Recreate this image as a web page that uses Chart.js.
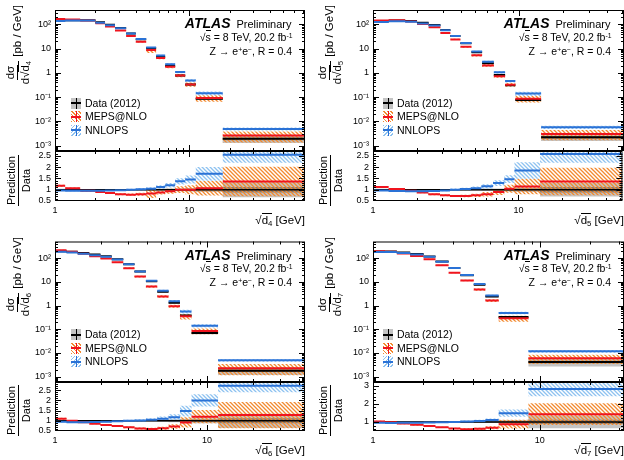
<!DOCTYPE html>
<html>
<head>
<meta charset="utf-8">
<script src="https://cdn.jsdelivr.net/npm/chart.js@4.4.0/dist/chart.umd.min.js"></script>
<style>
  body { margin: 0; background: #fff; font-family: "Liberation Sans", Arial, Helvetica, sans-serif; color: #000; }
  #fig { position: relative; width: 624px; height: 460px; overflow: hidden; }
  .panel { position: absolute; width: 312px; height: 230px; }
  .panel canvas { position: absolute; left: 0; }
  .txt { position: absolute; white-space: nowrap; }
  .atlas { font-size: 11px; line-height: 14px; }
  .atlas b { font-size: 14px; font-style: italic; font-weight: bold; margin-right: 6px; }
  .info { font-size: 10.5px; line-height: 12px; text-align: right; }
  .sup { font-size: 65%; vertical-align: 0.45em; line-height: 0; }
  .sb { font-size: 68%; vertical-align: -0.3em; line-height: 0; }
  .ol { border-top: 1px solid #000; padding-top: 0; }
  .leg { font-size: 10.5px; line-height: 13.5px; }
  .leg div { position: relative; padding-left: 14px; height: 13.5px; }
  .ico { position: absolute; left: 0; top: 1px; width: 10px; height: 11px; }
  .ico i { position: absolute; display: block; }
  .ico .h { left: 0; right: 0; top: 4.5px; height: 2px; }
  .ico .v { top: 0; bottom: 0; left: 4.5px; width: 1px; }
  .xt { font-size: 11.5px; line-height: 13px; text-align: right; }
  .yt { position: absolute; transform: rotate(-90deg); transform-origin: top left;
        display: flex; align-items: center; height: 26px; white-space: nowrap; }
  .frac { display: inline-flex; flex-direction: column; align-items: center; line-height: 12px; margin-right: 3px; }
  .frac .n { border-bottom: 1px solid #000; padding: 0 1px 1px; }
  .frac .d { padding: 1px 1px 0; }
</style>
</head>
<body>
<div id="fig"></div>
<script>
// bins and cross sections for sqrt(d4) .. sqrt(d7), values in pb/GeV
const d4Edges = [1, 1.19, 1.54, 2.0, 2.36, 2.8, 3.39, 4.0, 4.78, 5.67, 6.62, 7.86, 9.34, 11.2, 17.8, 73];
const d4Data = [140, 148, 148, 122, 95, 70, 42, 24, 10.5, 4.6, 1.9, 0.78, 0.33, 0.085, 0.0019];
const d4Meps = [165, 157, 142, 110, 81, 56, 32.8, 19.2, 8.8, 4.05, 1.77, 0.78, 0.33, 0.091, 0.0026];
const d4Nnlops = [136, 142, 142, 117, 92, 68.6, 42, 24.5, 11.0, 5.15, 2.28, 1.07, 0.48, 0.145, 0.00485];
const d4DataErr = [0.04, 0.03, 0.03, 0.03, 0.03, 0.03, 0.03, 0.03, 0.04, 0.05, 0.06, 0.07, 0.08, 0.1, 0.33];
const d4DataStat = [0.005, 0.005, 0.005, 0.005, 0.005, 0.005, 0.005, 0.01, 0.01, 0.015, 0.02, 0.03, 0.04, 0.05, 0.12];
const d4MepsErr = [0.04, 0.04, 0.04, 0.04, 0.05, 0.05, 0.06, 0.08, 0.25, 0.1, 0.12, 0.15, 0.2, 0.3, 0.48];
const d4NnlopsErr = [0.03, 0.03, 0.03, 0.03, 0.03, 0.03, 0.04, 0.05, 0.06, 0.07, 0.08, 0.1, 0.12, 0.18, 0.14];

const d5Edges = [1, 1.28, 1.66, 2.0, 2.4, 2.89, 3.38, 3.96, 4.71, 5.57, 6.7, 8.0, 9.4, 14.1, 52];
const d5Data = [129, 142, 137, 117, 94, 58, 33, 16.4, 7.0, 2.5, 0.81, 0.31, 0.075, 0.0022];
const d5Meps = [144.5, 146, 131.5, 103, 75, 43.5, 23.8, 11.8, 5.25, 2.0, 0.73, 0.325, 0.086, 0.003];
const d5Nnlops = [125, 133.5, 127.4, 108.8, 88.4, 56.3, 33, 16.9, 7.5, 2.88, 1.05, 0.456, 0.139, 0.0057];
const d5DataErr = [0.04, 0.03, 0.03, 0.03, 0.03, 0.03, 0.03, 0.04, 0.04, 0.05, 0.06, 0.08, 0.1, 0.3];
const d5DataStat = [0.005, 0.005, 0.005, 0.005, 0.005, 0.005, 0.01, 0.01, 0.015, 0.02, 0.03, 0.04, 0.05, 0.12];
const d5MepsErr = [0.04, 0.04, 0.04, 0.04, 0.05, 0.05, 0.06, 0.08, 0.1, 0.12, 0.15, 0.17, 0.3, 0.45];
const d5NnlopsErr = [0.03, 0.03, 0.03, 0.03, 0.03, 0.04, 0.05, 0.06, 0.07, 0.08, 0.1, 0.12, 0.2, 0.15];

const d6Edges = [1, 1.19, 1.41, 1.68, 1.99, 2.36, 2.81, 3.33, 3.96, 4.7, 5.58, 6.63, 7.9, 11.8, 44];
const d6Data = [195, 185, 165, 140, 120, 90, 55, 27, 10.5, 3.8, 1.3, 0.38, 0.07, 0.0018];
const d6Meps = [214.5, 185, 153.5, 120.4, 96, 66.6, 37.4, 16.7, 6.3, 2.4, 0.94, 0.35, 0.084, 0.0023];
const d6Nnlops = [187, 172, 153.5, 131.6, 115, 88.2, 55, 27.5, 11.0, 4.2, 1.53, 0.56, 0.14, 0.0049];
const d6DataErr = [0.04, 0.03, 0.03, 0.03, 0.03, 0.03, 0.03, 0.04, 0.05, 0.06, 0.07, 0.1, 0.12, 0.35];
const d6DataStat = [0.005, 0.005, 0.005, 0.005, 0.005, 0.005, 0.01, 0.01, 0.015, 0.02, 0.03, 0.05, 0.06, 0.12];
const d6MepsErr = [0.04, 0.04, 0.04, 0.04, 0.05, 0.05, 0.06, 0.08, 0.1, 0.12, 0.15, 0.27, 0.27, 0.5];
const d6NnlopsErr = [0.03, 0.03, 0.03, 0.03, 0.03, 0.04, 0.05, 0.06, 0.07, 0.1, 0.12, 0.18, 0.15, 0.12];

const d7Edges = [1, 1.18, 1.39, 1.67, 2.01, 2.37, 2.84, 3.34, 4.02, 4.72, 5.67, 8.55, 32];
const d7Data = [190, 190, 173, 147, 117, 72, 38, 19, 7.6, 2.4, 0.33, 0.0042];
const d7Meps = [195.7, 186.2, 157.4, 123.5, 90, 50.4, 24.3, 11.4, 4.7, 1.63, 0.29, 0.006];
const d7Nnlops = [180.5, 178.6, 164.4, 141, 113.5, 70.6, 38, 19.4, 8.0, 2.64, 0.49, 0.0118];
const d7DataErr = [0.04, 0.03, 0.03, 0.03, 0.03, 0.03, 0.03, 0.04, 0.05, 0.06, 0.1, 0.35];
const d7DataStat = [0.005, 0.005, 0.005, 0.005, 0.005, 0.01, 0.01, 0.015, 0.02, 0.03, 0.05, 0.12];
const d7MepsErr = [0.04, 0.04, 0.04, 0.04, 0.05, 0.05, 0.06, 0.08, 0.1, 0.13, 0.28, 0.42];
const d7NnlopsErr = [0.03, 0.03, 0.03, 0.03, 0.03, 0.04, 0.05, 0.06, 0.07, 0.08, 0.13, 0.14];

// ratio axis labels
const ratioTicksA = [0.5, 1, 1.5, 2, 2.5];
const ratioTicksB = [1, 2, 3];

const FONT = '"Liberation Sans", Arial, Helvetica, sans-serif';
const RED = '#f0141e';
const BLUE = '#2a72d6';
const GREY = '#c4c4c4';
const DGREY = '#7c7c7c';
const ORANGE = '#f28a30';
const LBLUE = '#8ec2f0';

Chart.defaults.font.family = FONT;
Chart.defaults.color = '#000';

function hatch(color) {
  const c = document.createElement('canvas');
  c.width = c.height = 4;
  const g = c.getContext('2d');
  g.strokeStyle = color;
  g.lineWidth = 1.3;
  g.beginPath();
  g.moveTo(-1, -1); g.lineTo(5, 5);
  g.moveTo(-1, 3); g.lineTo(1, 5);
  g.moveTo(3, -1); g.lineTo(5, 1);
  g.stroke();
  return g.createPattern(c, 'repeat');
}
const ORANGE_HATCH = hatch(ORANGE);
const BLUE_HATCH = hatch(LBLUE);

const panels = [
  { sub: '4', left: 0, top: 0, axL: 55, axR: 305, mainTop: 10, split: 151, xMax: 73, yMax: 388,
    rMax: 2.72, rTicks: ratioTicksA, rMinor: 0.1,
    edges: d4Edges, data: d4Data, meps: d4Meps, nnlops: d4Nnlops,
    dataErr: d4DataErr, dataStat: d4DataStat, mepsErr: d4MepsErr, nnlopsErr: d4NnlopsErr },
  { sub: '5', left: 312, top: 0, axL: 61, axR: 312, mainTop: 10, split: 151, xMax: 52, yMax: 388,
    rMax: 2.72, rTicks: ratioTicksA, rMinor: 0.1,
    edges: d5Edges, data: d5Data, meps: d5Meps, nnlops: d5Nnlops,
    dataErr: d5DataErr, dataStat: d5DataStat, mepsErr: d5MepsErr, nnlopsErr: d5NnlopsErr },
  { sub: '6', left: 0, top: 230, axL: 55, axR: 305, mainTop: 11.5, split: 151.5, xMax: 44, yMax: 500,
    rMax: 2.9, rTicks: ratioTicksA, rMinor: 0.1,
    edges: d6Edges, data: d6Data, meps: d6Meps, nnlops: d6Nnlops,
    dataErr: d6DataErr, dataStat: d6DataStat, mepsErr: d6MepsErr, nnlopsErr: d6NnlopsErr },
  { sub: '7', left: 312, top: 230, axL: 61, axR: 312, mainTop: 11.5, split: 151.5, xMax: 32, yMax: 500,
    rMax: 3.2, rTicks: ratioTicksB, rMinor: 0.2,
    edges: d7Edges, data: d7Data, meps: d7Meps, nnlops: d7Nnlops,
    dataErr: d7DataErr, dataStat: d7DataStat, mepsErr: d7MepsErr, nnlopsErr: d7NnlopsErr }
];

// ---- tick helpers ----
function logTicks(min, max) {
  const out = [];
  for (let e = Math.floor(Math.log10(min)); e <= Math.ceil(Math.log10(max)); e++) {
    for (let m = 1; m < 10; m++) {
      const v = m * Math.pow(10, e);
      if (v >= min * 0.9999 && v <= max * 1.0001) out.push({ value: v, major: m === 1 });
    }
  }
  return out;
}
function linTicks(min, max, majors, step) {
  const out = [];
  for (let k = Math.ceil(min / step - 1e-6); k <= Math.floor(max / step + 1e-6); k++) {
    const v = +(k * step).toFixed(4);
    out.push({ value: v, major: majors.includes(v) });
  }
  return out;
}
const SUP = { '-': '\u207B', '0': '\u2070', '1': '\u00B9', '2': '\u00B2', '3': '\u00B3' };
function powLabel(v) {
  const e = Math.round(Math.log10(v));
  if (e === 0) return '1';
  if (e === 1) return '10';
  return '10' + String(e).split('').map(c => SUP[c]).join('');
}

// frame with inward ticks on all four sides
const framePlugin = {
  id: 'frame',
  afterDatasetsDraw(chart) {
    const { ctx, chartArea: a, scales } = chart;
    ctx.save();
    ctx.strokeStyle = '#000';
    ctx.lineWidth = 1;
    ctx.strokeRect(a.left + 0.5, a.top + 0.5, a.right - a.left - 1, a.bottom - a.top - 1);
    ctx.beginPath();
    scales.x.ticks.forEach(t => {
      const px = Math.round(scales.x.getPixelForValue(t.value)) + 0.5;
      if (px < a.left + 1 || px > a.right - 1) return;
      const len = t.major ? 6 : 3;
      ctx.moveTo(px, a.bottom); ctx.lineTo(px, a.bottom - len);
      ctx.moveTo(px, a.top); ctx.lineTo(px, a.top + len);
    });
    scales.y.ticks.forEach(t => {
      const py = Math.round(scales.y.getPixelForValue(t.value)) + 0.5;
      if (py < a.top + 1 || py > a.bottom - 1) return;
      const len = t.major ? 6 : 3;
      ctx.moveTo(a.left, py); ctx.lineTo(a.left + len, py);
      ctx.moveTo(a.right, py); ctx.lineTo(a.right - len, py);
    });
    ctx.stroke();
    ctx.restore();
  }
};

// ---- dataset helpers ----
function segs(edges, vals) {
  const pts = [];
  vals.forEach((v, i) => {
    pts.push({ x: edges[i], y: v }, { x: edges[i + 1], y: v }, { x: edges[i + 1], y: null });
  });
  return pts;
}
function steps(edges, vals) {
  const pts = vals.map((v, i) => ({ x: edges[i], y: v }));
  pts.push({ x: edges[edges.length - 1], y: vals[vals.length - 1] });
  return pts;
}
function band(edges, vals, err, color, order) {
  const common = { stepped: true, borderWidth: 0, borderColor: 'rgba(0,0,0,0)', pointRadius: 0, order };
  return [
    Object.assign({ data: steps(edges, vals.map((v, i) => v * (1 + err[i]))), fill: false }, common),
    Object.assign({ data: steps(edges, vals.map((v, i) => v * (1 - err[i]))), fill: '-1', backgroundColor: color }, common)
  ];
}
function line(pts, color, width, order) {
  return { data: pts, borderColor: color, borderWidth: width, pointRadius: 0, fill: false, spanGaps: false, order };
}

function mainSets(p) {
  return [
    ...band(p.edges, p.data, p.dataErr, GREY, 7),
    ...band(p.edges, p.data, p.dataStat, DGREY, 6),
    ...band(p.edges, p.meps, p.mepsErr, ORANGE_HATCH, 5),
    ...band(p.edges, p.nnlops, p.nnlopsErr, BLUE_HATCH, 4),
    line(segs(p.edges, p.data), '#000', 2, 3),
    line(segs(p.edges, p.meps), RED, 2, 2),
    line(segs(p.edges, p.nnlops), BLUE, 2, 1)
  ];
}
function ratioSets(p) {
  const ones = p.data.map(() => 1);
  const mepsR = p.meps.map((v, i) => v / p.data[i]);
  const nnlopsR = p.nnlops.map((v, i) => v / p.data[i]);
  const last = p.edges.length - 1;
  return [
    ...band(p.edges, ones, p.dataErr, GREY, 7),
    ...band(p.edges, ones, p.dataStat, DGREY, 6),
    ...band(p.edges, mepsR, p.mepsErr, ORANGE_HATCH, 5),
    ...band(p.edges, nnlopsR, p.nnlopsErr, BLUE_HATCH, 4),
    line([{ x: p.edges[0], y: 1 }, { x: p.edges[last], y: 1 }], '#000', 1.5, 3),
    line(segs(p.edges, mepsR), RED, 2, 2),
    line(segs(p.edges, nnlopsR), BLUE, 2, 1)
  ];
}

function config(p, isRatio) {
  const tickFont = { family: FONT, size: 9 };
  return {
    type: 'line',
    data: { datasets: isRatio ? ratioSets(p) : mainSets(p) },
    options: {
      responsive: false,
      animation: false,
      devicePixelRatio: 1,
      layout: { padding: { top: isRatio ? 10 : p.mainTop, bottom: isRatio ? 0 : 10, left: 0, right: 312 - p.axR } },
      plugins: { legend: { display: false }, tooltip: { enabled: false } },
      scales: {
        x: {
          type: 'logarithmic', min: 1, max: p.xMax,
          afterBuildTicks: s => { s.ticks = logTicks(1, p.xMax); },
          afterFit: s => { s.height = isRatio ? 29 : 0; },
          grid: { display: false, drawTicks: false },
          border: { display: false },
          ticks: {
            display: isRatio, autoSkip: false, maxRotation: 0, padding: 4, font: tickFont,
            callback: (v, i, ticks) => ticks[i].major ? powLabel(v) : ''
          }
        },
        y: isRatio ? {
          type: 'linear', min: 0.5, max: p.rMax,
          afterBuildTicks: s => { s.ticks = linTicks(0.5, p.rMax, p.rTicks, p.rMinor); },
          afterFit: s => { s.width = p.axL; },
          grid: { display: false, drawTicks: false },
          border: { display: false },
          ticks: { autoSkip: false, padding: 4, font: tickFont,
            callback: (v, i, ticks) => ticks[i].major ? String(v) : '' }
        } : {
          type: 'logarithmic', min: 6.2e-4, max: p.yMax,
          afterBuildTicks: s => { s.ticks = logTicks(6.2e-4, p.yMax); },
          afterFit: s => { s.width = p.axL; },
          grid: { display: false, drawTicks: false },
          border: { display: false },
          ticks: { autoSkip: false, padding: 4, font: tickFont,
            callback: (v, i, ticks) => ticks[i].major ? powLabel(v) : '' }
        }
      }
    },
    plugins: [framePlugin]
  };
}

const fig = document.getElementById('fig');

function icon(bg, color) {
  return `<span class="ico" style="background:${bg}"><i class="h" style="background:${color}"></i><i class="v" style="background:${color}"></i></span>`;
}

panels.forEach(p => {
  const box = document.createElement('div');
  box.className = 'panel';
  box.style.left = p.left + 'px';
  box.style.top = p.top + 'px';
  fig.appendChild(box);

  const cMain = document.createElement('canvas');
  cMain.width = 312;
  cMain.height = Math.round(p.split) + 10;
  cMain.style.top = '0px';
  box.appendChild(cMain);

  const cRatio = document.createElement('canvas');
  cRatio.width = 312;
  cRatio.height = 230 - Math.round(p.split) + 10;
  cRatio.style.top = (Math.round(p.split) - 10) + 'px';
  box.appendChild(cRatio);

  new Chart(cMain, config(p, false));
  new Chart(cRatio, config(p, true));

  const rx = 312 - (p.axR - 13.5);
  const t = p.mainTop;
  const dk = `<span class="ol">d<span class="sb">${p.sub}</span></span>`;
  box.insertAdjacentHTML('beforeend', `
    <div class="txt atlas" style="right:${rx}px;top:${t + 6.3}px"><b>ATLAS</b>Preliminary</div>
    <div class="txt info" style="right:${rx - 1}px;top:${t + 20.7}px">\u221A<span class="ol">s</span> = 8 TeV, 20.2 fb<span class="sup">-1</span></div>
    <div class="txt info" style="right:${rx - 0.5}px;top:${t + 34.7}px">Z \u2192 e<span class="sup">+</span>e<span class="sup">\u2212</span>, R = 0.4</div>
    <div class="txt leg" style="left:71px;top:${t + 86.5}px">
      <div>${icon(GREY, '#000')}Data (2012)</div>
      <div>${icon('repeating-linear-gradient(45deg,' + ORANGE + ' 0 1px,#fff 1px 2.5px)', RED)}MEPS@NLO</div>
      <div>${icon('repeating-linear-gradient(135deg,' + LBLUE + ' 0 1px,#fff 1px 2.5px)', BLUE)}NNLOPS</div>
    </div>
    <div class="txt xt" style="right:${312 - p.axR}px;top:214px">\u221A${dk} [GeV]</div>
    <div class="yt" style="left:4px;top:${t - 5 + 100}px;width:100px;justify-content:flex-end;font-size:11.5px">
      <span class="frac"><span class="n">d\u03C3</span><span class="d">d\u221A${dk}</span></span>[pb / GeV]
    </div>
    <div class="yt" style="left:5px;top:208px;width:58px;justify-content:center;font-size:11px">
      <span class="frac"><span class="n">Prediction</span><span class="d">Data</span></span>
    </div>
  `);
});
</script>
</body>
</html>
